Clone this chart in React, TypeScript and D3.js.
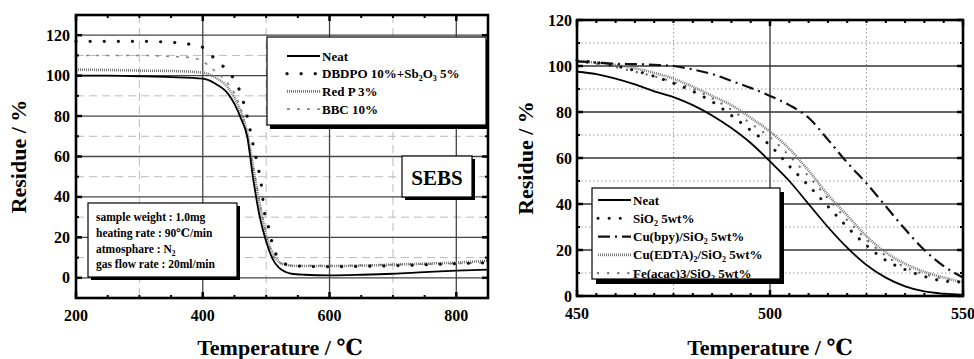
import React from "react";
import * as d3 from "d3";

// ---------- Left panel data (SEBS) ----------
const leftNeatT = [200, 250, 300, 350, 400, 420, 440, 450, 460, 470, 480, 490, 500, 510, 520, 530, 540, 560, 600, 650, 700, 750, 800, 850];
const leftNeatV = [100, 100, 99.7, 99.3, 98.5, 96, 91, 86, 79, 70, 48, 30, 18, 9.5, 5, 3, 2, 1.5, 1.2, 1.5, 2, 2.8, 3.5, 4];
const leftRedPT = [200, 250, 300, 350, 400, 420, 440, 450, 460, 470, 480, 490, 500, 510, 520, 530, 540, 560, 600, 650, 700, 750, 800, 850];
const leftRedPV = [103, 102.8, 102.5, 102.3, 101.5, 99, 94, 89, 82, 72, 54, 36, 21, 12.5, 8, 6.5, 6, 5.8, 5.8, 6, 6.5, 7, 7.5, 8.5];
const leftDbdpoT = [200, 250, 300, 350, 380, 400, 420, 440, 455, 465, 472, 480, 487, 492, 497, 503, 508, 515, 525, 540, 600, 700, 800, 850];
const leftDbdpoV = [117, 117, 117, 116.5, 115.5, 114, 108, 102, 95, 86, 77, 65, 55, 47, 33, 26, 19, 12, 8, 6, 5.5, 6, 7, 7.5];
const leftBbcT = [200, 250, 300, 350, 380, 400, 420, 440, 455, 465, 475, 485, 492, 500, 508, 518, 530, 545, 600, 700, 800, 850];
const leftBbcV = [110, 110, 110, 109.5, 109, 107, 102, 96, 88, 78, 62, 46, 34, 22, 13, 8, 6.5, 6, 6, 6.5, 7, 7.5];
const leftXTicks = [200, 400, 600, 800];
const leftYTicks = [0, 20, 40, 60, 80, 100, 120];
const leftLegend = ["Neat", "DBDPO", "Red P 3%", "BBC 10%"];
const insetLines = ["sample weight : 1.0mg", "heating rate : 90℃/min", "atmosphare : N", "gas flow rate : 20ml/min"];

// ---------- Right panel data ----------
const rightT = [450, 455, 460, 465, 470, 475, 480, 485, 490, 495, 500, 505, 510, 515, 520, 525, 530, 535, 540, 545, 550];
const rightNeat = [97.5, 96.5, 94.5, 92, 89, 86.5, 83, 78.5, 73, 66.5, 58.5, 50, 40, 30, 21, 13.5, 8, 4.2, 2, 1, 0.5];
const rightSiO2 = [102.5, 101.5, 100, 98, 95.5, 92.5, 89, 84.5, 78.5, 72, 65.5, 56.5, 48, 39, 30, 22, 15.5, 11.5, 8.5, 6.5, 6];
const rightCuBpy = [102, 101.5, 101, 100.8, 100.5, 100, 98.5, 96.5, 93.5, 90.5, 87, 83, 77.5, 68, 58, 49, 39, 29, 20, 13, 8];
const rightCuEdta = [102, 101.5, 100.5, 99, 97, 94.5, 91, 87, 83, 77.5, 71.5, 64, 54.5, 44, 35, 26, 19, 14, 10.5, 8, 6];
const rightFeAcac = [101.5, 101, 99.5, 97.5, 95.5, 93, 90, 86, 81, 75, 69, 61, 52, 42.5, 33, 24.5, 17.5, 12.5, 9.5, 7.5, 6];
const rightXTicks = [450, 500, 550];
const rightYTicks = [0, 20, 40, 60, 80, 100, 120];

const FONT = "'Liberation Serif', 'DejaVu Serif', serif";

type Style = { stroke: string; width: number; dash?: string; cap?: "round" | "butt" };
const sNeat: Style = { stroke: "#000", width: 1.8 };
const sDots: Style = { stroke: "#111", width: 3.2, dash: "0.1 14", cap: "round" };
const sHatch: Style = { stroke: "#777", width: 2.6, dash: "1 1" };
const sDash: Style = { stroke: "#888", width: 1.6, dash: "3 7" };
const sSiO2: Style = { stroke: "#111", width: 3, dash: "0.1 11", cap: "round" };
const sDashDot: Style = { stroke: "#111", width: 2.2, dash: "12 5 2 5" };
const sFe: Style = { stroke: "#666", width: 2.2, dash: "0.1 10", cap: "round" };

function Path({ t, v, x, y, s }: { t: number[]; v: number[]; x: any; y: any; s: Style }) {
  const gen = d3.line<number>().x((_, i) => x(t[i])).y((d) => y(d)).curve(d3.curveMonotoneX);
  return (
    <path d={gen(v) || ""} fill="none" stroke={s.stroke} strokeWidth={s.width}
      strokeDasharray={s.dash} strokeLinecap={s.cap || "butt"} />
  );
}

function LegendLine({ x1, x2, y, s }: { x1: number; x2: number; y: number; s: Style }) {
  return <line x1={x1} x2={x2} y1={y} y2={y} stroke={s.stroke} strokeWidth={s.width}
    strokeDasharray={s.dash} strokeLinecap={s.cap || "butt"} />;
}

function Frame({ x, y, xMinor, yMinor, xMajor, yMajor }: any) {
  const [x0, x1] = x.range();
  const [y0, y1] = y.range();
  const els: any[] = [];
  yMajor.forEach((v: number, i: number) => {
    els.push(<line key={"ym" + i} x1={x0} x2={x0 + 6} y1={y(v)} y2={y(v)} stroke="#000" strokeWidth={2.5} />);
    els.push(<line key={"ymr" + i} x1={x1} x2={x1 - 6} y1={y(v)} y2={y(v)} stroke="#000" strokeWidth={2.5} />);
  });
  yMinor.forEach((v: number, i: number) => {
    els.push(<line key={"yn" + i} x1={x0} x2={x0 + 3} y1={y(v)} y2={y(v)} stroke="#000" strokeWidth={2} />);
    els.push(<line key={"ynr" + i} x1={x1} x2={x1 - 3} y1={y(v)} y2={y(v)} stroke="#000" strokeWidth={2} />);
  });
  xMajor.forEach((v: number, i: number) => {
    els.push(<line key={"xm" + i} x1={x(v)} x2={x(v)} y1={y0} y2={y0 - 6} stroke="#000" strokeWidth={2.5} />);
    els.push(<line key={"xmt" + i} x1={x(v)} x2={x(v)} y1={y1} y2={y1 + 6} stroke="#000" strokeWidth={2.5} />);
  });
  xMinor.forEach((v: number, i: number) => {
    els.push(<line key={"xn" + i} x1={x(v)} x2={x(v)} y1={y0} y2={y0 - 3} stroke="#000" strokeWidth={2} />);
    els.push(<line key={"xnt" + i} x1={x(v)} x2={x(v)} y1={y1} y2={y1 + 3} stroke="#000" strokeWidth={2} />);
  });
  return (
    <g>
      {els}
      <rect x={x0} y={y1} width={x1 - x0} height={y0 - y1} fill="none" stroke="#000" strokeWidth={2.6} />
    </g>
  );
}

export default function App() {
  // Left panel scales
  const lx = d3.scaleLinear().domain([200, 850]).range([76, 488]);
  const ly = d3.scaleLinear().domain([-10, 130]).range([298, 15]);
  // Right panel scales
  const rx = d3.scaleLinear().domain([450, 550]).range([577, 963]);
  const ry = d3.scaleLinear().domain([0, 120]).range([296, 20]);

  const lMinorY = d3.range(-10, 131, 10).filter((v) => v % 20 !== 0);
  const lMinorX = d3.range(250, 850, 50).filter((v) => v % 200 !== 0);
  const rMinorY = d3.range(10, 120, 10).filter((v) => v % 20 !== 0);
  const rMinorX = d3.range(455, 550, 5).filter((v) => v % 50 !== 0);

  const tickStyle = { fontFamily: FONT, fontWeight: 700, fontSize: 16 } as const;
  const titleStyle = { fontFamily: FONT, fontWeight: 700, fontSize: 22 } as const;
  const legStyle = { fontFamily: FONT, fontWeight: 700, fontSize: 13 } as const;

  const leftLegendStyles = [sNeat, sDots, sHatch, sDash];
  const rightLegendStyles = [sNeat, sSiO2, sDashDot, sHatch, sFe];
  const sub = (s: string) => <tspan fontSize={8} dy={3}>{s}</tspan>;
  const unsub = (s: string) => <tspan fontSize={13} dy={-3}>{s}</tspan>;

  return (
    <svg width={974} height={359} style={{ position: "absolute", left: 0, top: 0, background: "#fff" }}>
      <rect width={974} height={359} fill="#fff" />
      {/* ================= LEFT PANEL ================= */}
      <g>
        {[10, 30, 50, 70, 90, 110].map((v) => (
          <line key={"lgm" + v} x1={lx(200)} x2={lx(850)} y1={ly(v)} y2={ly(v)} stroke="#bbb" strokeWidth={1} strokeDasharray="8 5" />
        ))}
        {[300, 500, 700].map((v) => (
          <line key={"lgv" + v} x1={lx(v)} x2={lx(v)} y1={ly(130)} y2={ly(-10)} stroke="#bbb" strokeWidth={1} strokeDasharray="8 5" />
        ))}
        {leftYTicks.map((v) => (
          <line key={"lg" + v} x1={lx(200)} x2={lx(850)} y1={ly(v)} y2={ly(v)} stroke="#444" strokeWidth={1.3} />
        ))}
        {[400, 600, 800].map((v) => (
          <line key={"lgx" + v} x1={lx(v)} x2={lx(v)} y1={ly(130)} y2={ly(-10)} stroke="#444" strokeWidth={1.3} />
        ))}

        <Path t={leftBbcT} v={leftBbcV} x={lx} y={ly} s={sDash} />
        <Path t={leftRedPT} v={leftRedPV} x={lx} y={ly} s={sHatch} />
        <Path t={leftNeatT} v={leftNeatV} x={lx} y={ly} s={sNeat} />
        <Path t={leftDbdpoT} v={leftDbdpoV} x={lx} y={ly} s={sDots} />

        <Frame x={lx} y={ly} xMinor={lMinorX} yMinor={lMinorY} xMajor={leftXTicks} yMajor={leftYTicks} />

        {/* legend */}
        <rect x={270} y={40} width={218} height={89} fill="#000" />
        <rect x={267} y={37} width={219} height={88} fill="#fff" stroke="#000" strokeWidth={1.2} />
        {leftLegend.map((name, i) => {
          const yy = 56 + i * 17.7;
          return (
            <g key={"ll" + i}>
              <LegendLine x1={287} x2={320} y={yy} s={leftLegendStyles[i]} />
              <text x={322} y={yy + 4.5} {...legStyle}>
                {i === 1 ? (
                  <>
                    DBDPO 10%+Sb{sub("2")}{unsub("O")}{sub("3")}{unsub(" 5%")}
                  </>
                ) : (
                  name
                )}
              </text>
            </g>
          );
        })}

        {/* SEBS box */}
        <rect x={405} y={159} width={70} height={41} fill="#000" />
        <rect x={402} y={156} width={70} height={41} fill="#fff" stroke="#000" strokeWidth={1.2} />
        <text x={437} y={184.5} textAnchor="middle" fontFamily={FONT} fontWeight={700} fontSize={21}>SEBS</text>

        {/* inset conditions box */}
        <rect x={91} y={206} width={149} height={74} fill="#000" />
        <rect x={88} y={203} width={149} height={74} fill="#fff" stroke="#000" strokeWidth={1.2} />
        {insetLines.map((s, i) => (
          <text key={"in" + i} x={96} y={221 + i * 15.8} fontFamily={FONT} fontWeight={700} fontSize={11.5}>
            {s}
            {i === 2 ? <tspan fontSize={7.5} dy={3}>2</tspan> : null}
          </text>
        ))}

        {leftYTicks.map((v) => (
          <text key={"lyt" + v} x={70} y={ly(v) + 5.5} textAnchor="end" {...tickStyle}>{v}</text>
        ))}
        {leftXTicks.map((v) => (
          <text key={"lxt" + v} x={lx(v)} y={321} textAnchor="middle" {...tickStyle}>{v}</text>
        ))}
        <text x={280} y={355} textAnchor="middle" {...titleStyle}>Temperature / ℃</text>
        <text transform={`translate(26,${ly(60)}) rotate(-90)`} textAnchor="middle" {...titleStyle}>Residue / %</text>
      </g>

      {/* ================= RIGHT PANEL ================= */}
      <g>
        {[10, 30, 50, 70, 90, 110].map((v) => (
          <line key={"rgm" + v} x1={rx(450)} x2={rx(550)} y1={ry(v)} y2={ry(v)} stroke="#999" strokeWidth={1} strokeDasharray="1.5 2.5" />
        ))}
        {[475, 525].map((v) => (
          <line key={"rgv" + v} x1={rx(v)} x2={rx(v)} y1={ry(120)} y2={ry(0)} stroke="#999" strokeWidth={1} strokeDasharray="1.5 2.5" />
        ))}
        {[20, 40, 60, 80, 100].map((v) => (
          <line key={"rg" + v} x1={rx(450)} x2={rx(550)} y1={ry(v)} y2={ry(v)} stroke="#333" strokeWidth={1.3} />
        ))}
        <line x1={rx(500)} x2={rx(500)} y1={ry(120)} y2={ry(0)} stroke="#333" strokeWidth={1.3} />

        <Path t={rightT} v={rightFeAcac} x={rx} y={ry} s={sFe} />
        <Path t={rightT} v={rightCuEdta} x={rx} y={ry} s={sHatch} />
        <Path t={rightT} v={rightSiO2} x={rx} y={ry} s={sSiO2} />
        <Path t={rightT} v={rightCuBpy} x={rx} y={ry} s={sDashDot} />
        <Path t={rightT} v={rightNeat} x={rx} y={ry} s={sNeat} />

        <Frame x={rx} y={ry} xMinor={rMinorX} yMinor={rMinorY} xMajor={rightXTicks} yMajor={rightYTicks} />

        {/* legend */}
        <rect x={596} y={192} width={188} height={92} fill="#000" />
        <rect x={592} y={188} width={188} height={91} fill="#fff" stroke="#000" strokeWidth={1.2} />
        {[0, 1, 2, 3, 4].map((i) => {
          const yy = 200 + i * 18.3;
          return (
            <g key={"rl" + i}>
              <LegendLine x1={598} x2={631} y={yy} s={rightLegendStyles[i]} />
              <text x={633} y={yy + 4.5} {...legStyle}>
                {i === 0 && "Neat"}
                {i === 1 && <>SiO{sub("2")}{unsub(" 5wt%")}</>}
                {i === 2 && <>Cu(bpy)/SiO{sub("2")}{unsub(" 5wt%")}</>}
                {i === 3 && <>Cu(EDTA){sub("2")}{unsub("/SiO")}{sub("2")}{unsub(" 5wt%")}</>}
                {i === 4 && <>Fe(acac)3/SiO{sub("2")}{unsub(" 5wt%")}</>}
              </text>
            </g>
          );
        })}

        {rightYTicks.map((v) => (
          <text key={"ryt" + v} x={572} y={ry(v) + 5.5} textAnchor="end" {...tickStyle}>{v}</text>
        ))}
        {rightXTicks.map((v) => (
          <text key={"rxt" + v} x={rx(v)} y={319} textAnchor="middle" {...tickStyle}>{v}</text>
        ))}
        <text x={770} y={355} textAnchor="middle" {...titleStyle}>Temperature / ℃</text>
        <text transform={`translate(533,${ry(60)}) rotate(-90)`} textAnchor="middle" {...titleStyle}>Residue / %</text>
      </g>
    </svg>
  );
}
